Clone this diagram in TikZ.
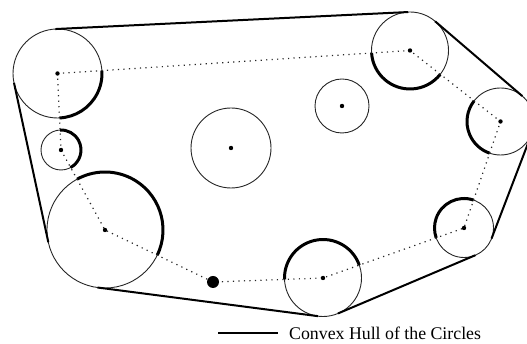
\documentclass[tikz,border=0pt]{standalone}
\usepackage{fontspec}
\setmainfont{Liberation Serif}
\usetikzlibrary{calc}
\tikzset{
  circ/.style={draw=black!85, line width=0.9pt},
  thickarc/.style={draw=black, line width=3pt},
  hull/.style={draw=black, line width=2pt},
  dotline/.style={draw=black!85, line width=1.2pt, dash pattern=on 1.2pt off 4.3pt},
  ctr/.style={fill=black},
}
\newcommand\defcirc[4]{%
  \expandafter\def\csname cx#1\endcsname{#2}%
  \expandafter\def\csname cy#1\endcsname{#3}%
  \expandafter\def\csname cr#1\endcsname{#4}%
  \coordinate (#1) at (#2,#3);%
}
\newcommand\hullseg[2]{%
  \edef\myxa{\csname cx#1\endcsname}\edef\myya{\csname cy#1\endcsname}\edef\myra{\csname cr#1\endcsname}%
  \edef\myxb{\csname cx#2\endcsname}\edef\myyb{\csname cy#2\endcsname}\edef\myrb{\csname cr#2\endcsname}%
  \pgfmathsetmacro\myT{atan2(\myyb-\myya,\myxb-\myxa)+acos((\myra-\myrb)/(100*veclen((\myxb-\myxa)/100,(\myyb-\myya)/100)))}%
  \coordinate (#1-#2-s) at ($(#1)+(\myT:\myra)$);%
  \coordinate (#1-#2-e) at ($(#2)+(\myT:\myrb)$);%
  \draw[hull] (#1-#2-s) -- (#1-#2-e);%
}
\newcommand\innerarc[3]{%
  \edef\myxx{\csname cx#1\endcsname}\edef\myyx{\csname cy#1\endcsname}\edef\myrx{\csname cr#1\endcsname}%
  \edef\myxp{\csname cx#2\endcsname}\edef\myyp{\csname cy#2\endcsname}%
  \edef\myxn{\csname cx#3\endcsname}\edef\myyn{\csname cy#3\endcsname}%
  \pgfmathsetmacro\myAngA{atan2(\myyp-\myyx,\myxp-\myxx)}%
  \pgfmathsetmacro\myAngB{atan2(\myyn-\myyx,\myxn-\myxx)}%
  \pgfmathsetmacro\myAngB{ifthenelse(\myAngB<\myAngA,\myAngB+360,\myAngB)}%
  \draw[thickarc] ($(#1)+(\myAngA:\myrx)$) arc[start angle=\myAngA, end angle=\myAngB, radius=\myrx];%
}
\begin{document}
\begin{tikzpicture}[x=1pt,y=1pt]
\useasboundingbox (0,0) rectangle (527,344);
\defcirc{A}{57.5}{270.5}{44.5}
\defcirc{B}{61}{194}{20}
\defcirc{C}{105}{114}{58}
\defcirc{D}{231}{196}{40}
\defcirc{E}{342}{238}{27}
\defcirc{F}{410}{293.5}{38.5}
\defcirc{G}{500.5}{222.5}{33.5}
\defcirc{H}{464}{116}{29.5}
\defcirc{I}{323}{66}{38.5}
\defcirc{K}{213}{62}{6}
% circles
\foreach \n in {A,B,C,D,E,F,G,H,I}{
  \draw[circ] (\n) circle[radius=\csname cr\n\endcsname];
}
% inner arcs
\innerarc{A}{B}{F}
\innerarc{B}{C}{A}
\innerarc{C}{K}{B}
\innerarc{I}{H}{K}
\innerarc{H}{G}{I}
\innerarc{G}{F}{H}
\innerarc{F}{A}{G}
% dotted polygon
\draw[dotline] (A) -- (F) -- (G) -- (H) -- (I) -- (K) -- (C) -- (B) -- cycle;
% centres
\foreach \n in {A,B,C,D,E,F,G,H,I}{
  \fill[ctr] (\n) circle[radius=2.2];
}
\fill[ctr] (K) circle[radius=6];
% hull
\hullseg{A}{F}
\hullseg{F}{G}
\hullseg{G}{H}
\hullseg{H}{I}
\hullseg{I}{C}
\hullseg{C}{A}
% legend
\coordinate (L1) at (218,11);
\coordinate (L2) at (278,11);
\draw[line width=1.3pt] (L1) -- (L2);
\node[anchor=west, inner sep=0pt, font=\fontsize{17.8}{19}\selectfont] (legend) at (289,11) {Convex Hull of the Circles};
\end{tikzpicture}
\end{document}
